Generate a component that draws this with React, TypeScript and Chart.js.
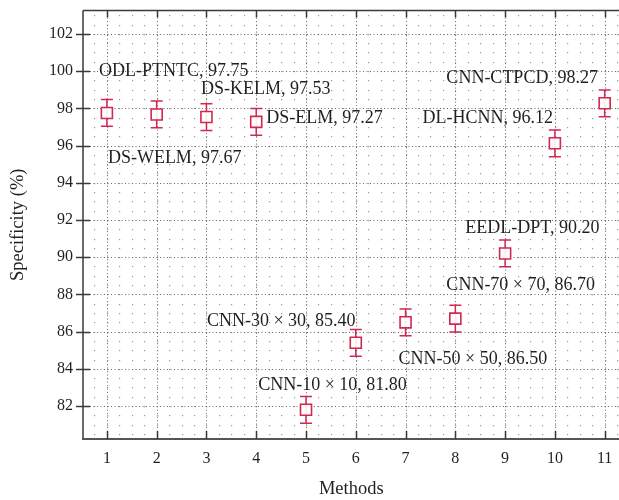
import React, { useEffect, useRef } from "react";
import { Chart, registerables } from "chart.js";

Chart.register(...registerables);

const methods = [1, 2, 3, 4, 5, 6, 7, 8, 9, 10, 11];
const specificity = [97.75, 97.67, 97.53, 97.27, 81.8, 85.4, 86.5, 86.7, 90.2, 96.12, 98.27];
const errors = [0.72, 0.72, 0.72, 0.72, 0.72, 0.72, 0.72, 0.72, 0.72, 0.72, 0.72];
const methodNames = [
  "ODL-PTNTC",
  "DS-WELM",
  "DS-KELM",
  "DS-ELM",
  "CNN-10 × 10",
  "CNN-30 × 30",
  "CNN-50 × 50",
  "CNN-70 × 70",
  "EEDL-DPT",
  "DL-HCNN",
  "CNN-CTPCD",
];
const xTicks = [1, 2, 3, 4, 5, 6, 7, 8, 9, 10, 11];
const yTicks = [82, 84, 86, 88, 90, 92, 94, 96, 98, 100, 102];

// label anchor (left edge, vertical centre) in data units
const labelAnchors = [
  [0.84, 100.0],
  [1.02, 95.33],
  [2.89, 99.0],
  [4.2, 97.45],
  [4.04, 83.13],
  [3.01, 86.57],
  [6.86, 84.52],
  [7.82, 88.48],
  [8.2, 91.54],
  [7.34, 97.45],
  [7.82, 99.62],
];

const FONT = "'Liberation Serif', 'DejaVu Serif', serif";
const TEXT = "#231f20";
const RED = "#d0284f";

const decorPlugin = {
  id: "decor",
  beforeDatasetsDraw(chart: any) {
    const { ctx, chartArea: a, scales } = chart;
    const xs = scales.x;
    const ys = scales.y;
    ctx.save();
    // minor dots
    ctx.fillStyle = "#9a9a9a";
    for (let xv = 0.5; xv <= 11.5; xv += 0.25) {
      const px = Math.round(xs.getPixelForValue(xv));
      if (px <= a.left + 1 || px >= a.right) continue;
      for (let yv = 80.5; yv <= 103; yv += 0.5) {
        const py = Math.round(ys.getPixelForValue(yv));
        if (py <= a.top + 1 || py >= a.bottom - 1) continue;
        ctx.fillRect(px, py, 1.2, 1.2);
      }
    }
    // major dotted grid
    ctx.strokeStyle = "#6a6a6a";
    ctx.lineWidth = 1;
    ctx.setLineDash([1, 2.5]);
    xTicks.forEach((v) => {
      const px = Math.round(xs.getPixelForValue(v)) + 0.5;
      ctx.beginPath();
      ctx.moveTo(px, a.top);
      ctx.lineTo(px, a.bottom);
      ctx.stroke();
    });
    yTicks.forEach((v) => {
      const py = Math.round(ys.getPixelForValue(v)) + 0.5;
      ctx.beginPath();
      ctx.moveTo(a.left, py);
      ctx.lineTo(a.right, py);
      ctx.stroke();
    });
    ctx.setLineDash([]);
    // axes lines
    ctx.strokeStyle = "#3a3a3a";
    ctx.lineWidth = 1.5;
    ctx.beginPath();
    ctx.moveTo(a.left, a.top);
    ctx.lineTo(a.right, a.top);
    ctx.moveTo(a.left, a.top);
    ctx.lineTo(a.left, a.bottom);
    ctx.stroke();
    ctx.strokeStyle = "#555";
    ctx.lineWidth = 2;
    ctx.beginPath();
    ctx.moveTo(a.left - 1, a.bottom);
    ctx.lineTo(a.right, a.bottom);
    ctx.stroke();
    // tick marks
    ctx.strokeStyle = "#3a3a3a";
    ctx.lineWidth = 1.5;
    ctx.beginPath();
    yTicks.forEach((v) => {
      const py = Math.round(ys.getPixelForValue(v)) + 0.5;
      ctx.moveTo(a.left - 7, py);
      ctx.lineTo(a.left + 7, py);
    });
    xTicks.forEach((v) => {
      const px = Math.round(xs.getPixelForValue(v)) + 0.5;
      ctx.moveTo(px, a.bottom);
      ctx.lineTo(px, a.bottom - 8);
      ctx.moveTo(px, a.top);
      ctx.lineTo(px, a.top + 7);
    });
    ctx.stroke();
    // error bars
    ctx.strokeStyle = RED;
    ctx.lineWidth = 1.5;
    ctx.beginPath();
    methods.forEach((m, i) => {
      const px = xs.getPixelForValue(m);
      const hi = ys.getPixelForValue(specificity[i] + errors[i]);
      const lo = ys.getPixelForValue(specificity[i] - errors[i]);
      ctx.moveTo(px, hi);
      ctx.lineTo(px, lo);
      ctx.moveTo(px - 6, hi);
      ctx.lineTo(px + 6, hi);
      ctx.moveTo(px - 6, lo);
      ctx.lineTo(px + 6, lo);
    });
    ctx.stroke();
    ctx.restore();
  },
  afterDatasetsDraw(chart: any) {
    const { ctx, scales } = chart;
    ctx.save();
    ctx.font = `18px ${FONT}`;
    ctx.fillStyle = TEXT;
    ctx.textAlign = "left";
    ctx.textBaseline = "middle";
    methodNames.forEach((n, i) => {
      const [lx, ly] = labelAnchors[i];
      ctx.fillText(`${n}, ${specificity[i].toFixed(2)}`, scales.x.getPixelForValue(lx), scales.y.getPixelForValue(ly));
    });
    ctx.restore();
  },
};

export default function App() {
  const ref = useRef<HTMLCanvasElement>(null);
  useEffect(() => {
    const chart = new Chart(ref.current as HTMLCanvasElement, {
      type: "scatter",
      data: {
        datasets: [
          {
            data: methods.map((m, i) => ({ x: m, y: specificity[i] })),
            pointStyle: "rect",
            pointRadius: 7.8,
            pointBackgroundColor: "rgba(255,255,255,0.9)",
            pointBorderColor: RED,
            pointBorderWidth: 1.6,
            showLine: false,
          },
        ],
      },
      options: {
        animation: false,
        responsive: false,
        devicePixelRatio: 1,
        layout: { padding: { top: 0, right: 0, left: 0, bottom: 0 } },
        plugins: { legend: { display: false }, tooltip: { enabled: false } },
        scales: {
          x: {
            type: "linear",
            min: 0.52,
            max: 11.3,
            afterBuildTicks: (s: any) => {
              s.ticks = xTicks.map((v) => ({ value: v }));
            },
            afterFit: (s: any) => {
              s.height = 61;
            },
            grid: { display: false, drawTicks: false },
            border: { display: false },
            ticks: { padding: 10, color: TEXT, font: { family: FONT, size: 16 } },
            title: {
              display: true,
              text: "Methods",
              color: TEXT,
              font: { family: FONT, size: 18.5 },
              padding: { top: 0, bottom: 0 },
            },
          },
          y: {
            type: "linear",
            min: 80.23,
            max: 103.25,
            afterBuildTicks: (s: any) => {
              s.ticks = yTicks.map((v) => ({ value: v }));
            },
            afterFit: (s: any) => {
              s.width = 83;
            },
            grid: { display: false, drawTicks: false },
            border: { display: false },
            ticks: { padding: 10, color: TEXT, font: { family: FONT, size: 16 } },
            title: {
              display: true,
              text: "Specificity (%)",
              color: TEXT,
              font: { family: FONT, size: 18.5 },
              padding: { top: 7, bottom: 0 },
            },
          },
        },
      },
      plugins: [decorPlugin],
    });
    return () => chart.destroy();
  }, []);
  return (
    <div style={{ position: "absolute", left: 0, top: 0, width: 619, height: 500, overflow: "hidden", background: "#fff" }}>
      <canvas ref={ref} width={629} height={509} style={{ display: "block", marginTop: -9 }} />
    </div>
  );
}
